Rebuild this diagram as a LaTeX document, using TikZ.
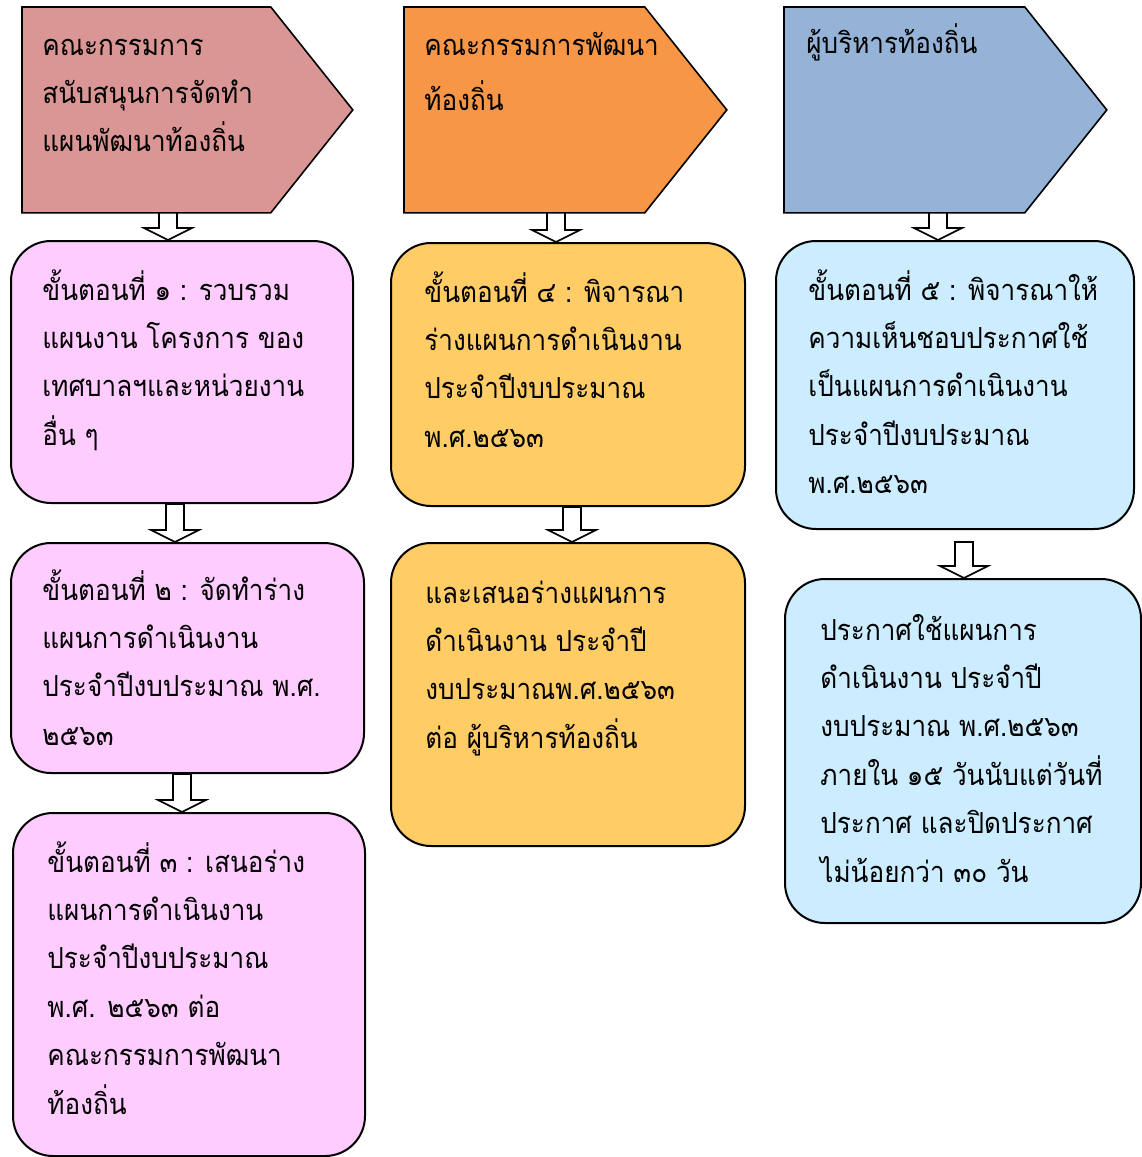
\documentclass[tikz,border=0pt]{standalone}
\usepackage{fontspec}
\newfontfamily\thai[Script=Thai, FakeStretch=0.9]{Loma}
\usetikzlibrary{calc}

\definecolor{hdrpink}{HTML}{D99694}
\definecolor{hdrorange}{HTML}{F79646}
\definecolor{hdrblue}{HTML}{95B3D7}
\definecolor{steppink}{HTML}{FFCCFF}
\definecolor{steporange}{HTML}{FFCC66}
\definecolor{stepblue}{HTML}{CCECFF}

\tikzset{
  hdrbox/.style={anchor=north west, inner sep=0pt, minimum height=102.5pt},
  stepbox/.style={draw, line width=1pt, rounded corners=20pt, anchor=north west, inner sep=0pt},
  steptext/.style={anchor=base west, inner sep=0pt,
    font=\thai\fontsize{14.5pt}{24.2pt}\selectfont},
  hollow/.style={draw, fill=white, line width=0.8pt, line join=miter}
}

% lines of a text, first baseline on the node's base
\newcommand{\textlines}[1]{\begin{tabular}[t]{@{}l@{}}#1\end{tabular}}

% pentagon behind a header node: #1 node, #2 colour
\newcommand{\hdrshape}[2]{%
  \draw[line width=0.8pt, fill=#2] (#1.north west) -- ([xshift=-41pt]#1.north east)
    -- (#1.east) -- ([xshift=-41pt]#1.south east) -- (#1.south west) -- cycle;}

% hollow block arrow going down: #1 x, #2 top, #3 bottom
\newcommand{\hollowdown}[3]{%
  \draw[hollow] let \p1=(#2), \p2=(#3), \p3=(#1,0) in
    (\x3-4.5pt,\y1) -- (\x3-4.5pt,\y2+6pt) -- (\x3-12pt,\y2+6pt) -- (\x3,\y2)
    -- (\x3+12pt,\y2+6pt) -- (\x3+4.5pt,\y2+6pt) -- (\x3+4.5pt,\y1) -- cycle;}

\begin{document}
\begin{tikzpicture}[x=0.5pt, y=-0.5pt]
    \useasboundingbox (0,0) rectangle (1141,1157);

    % Headers
    \node[hdrbox, minimum width=165pt] (h1) at (22,7) {};
    \node[hdrbox, minimum width=161pt] (h2) at (404,7) {};
    \node[hdrbox, minimum width=161pt] (h3) at (784,7) {};
    \hdrshape{h1}{hdrpink}
    \hdrshape{h2}{hdrorange}
    \hdrshape{h3}{hdrblue}
    \node[steptext] (h1t) at ([shift={(20,48)}]h1.north west)
        {\textlines{คณะกรรมการ\\สนับสนุนการจัดทำ\\แผนพัฒนาท้องถิ่น}};
    \node[steptext, font=\thai\fontsize{14.5pt}{27.5pt}\selectfont] (h2t) at ([shift={(20,48)}]h2.north west)
        {\textlines{คณะกรรมการพัฒนา\\ท้องถิ่น}};
    \node[steptext] (h3t) at ([shift={(22,46)}]h3.north west)
        {ผู้บริหารท้องถิ่น};

    % Steps, left column
    \node[stepbox, fill=steppink, minimum width=171pt, minimum height=131pt] (s1) at (10,240) {};
    \node[stepbox, fill=steppink, minimum width=176.5pt, minimum height=115pt] (s2) at (10,542) {};
    \node[stepbox, fill=steppink, minimum width=176pt, minimum height=171.5pt] (s3) at (12,812) {};
    % Steps, middle column
    \node[stepbox, fill=steporange, minimum width=177pt, minimum height=131.5pt] (s4) at (390,242) {};
    \node[stepbox, fill=steporange, minimum width=177pt, minimum height=151.5pt] (s5) at (390,542) {};
    % Steps, right column
    \node[stepbox, fill=stepblue, minimum width=179pt, minimum height=144pt] (s6) at (775,240) {};
    \node[stepbox, fill=stepblue, minimum width=178pt, minimum height=172pt] (s7) at (784,578) {};

    % Texts
    \node[steptext] (s1t) at ([shift={(32,60)}]s1.north west)
        {\textlines{ขั้นตอนที่ ๑ : รวบรวม\\แผนงาน โครงการ ของ\\เทศบาลฯและหน่วยงาน\\อื่น ๆ}};
    \node[steptext] (s2t) at ([shift={(32,58)}]s2.north west)
        {\textlines{ขั้นตอนที่ ๒ : จัดทำร่าง\\แผนการดำเนินงาน\\ประจำปีงบประมาณ พ.ศ.\\๒๕๖๓}};
    \node[steptext] (s3t) at ([shift={(35,60)}]s3.north west)
        {\textlines{ขั้นตอนที่ ๓ : เสนอร่าง\\แผนการดำเนินงาน\\ประจำปีงบประมาณ\\พ.ศ. ๒๕๖๓ ต่อ\\คณะกรรมการพัฒนา\\ท้องถิ่น}};
    \node[steptext] (s4t) at ([shift={(34,60)}]s4.north west)
        {\textlines{ขั้นตอนที่ ๔ : พิจารณา\\ร่างแผนการดำเนินงาน\\ประจำปีงบประมาณ\\พ.ศ.๒๕๖๓}};
    \node[steptext] (s5t) at ([shift={(35,61)}]s5.north west)
        {\textlines{และเสนอร่างแผนการ\\ดำเนินงาน ประจำปี\\งบประมาณพ.ศ.๒๕๖๓\\ต่อ ผู้บริหารท้องถิ่น}};
    \node[steptext] (s6t) at ([shift={(33,60)}]s6.north west)
        {\textlines{ขั้นตอนที่ ๕ : พิจารณาให้\\ความเห็นชอบประกาศใช้\\เป็นแผนการดำเนินงาน\\ประจำปีงบประมาณ\\พ.ศ.๒๕๖๓}};
    \node[steptext] (s7t) at ([shift={(36,62)}]s7.north west)
        {\textlines{ประกาศใช้แผนการ\\ดำเนินงาน ประจำปี\\งบประมาณ พ.ศ.๒๕๖๓\\ภายใน ๑๕ วันนับแต่วันที่\\ประกาศ และปิดประกาศ\\ไม่น้อยกว่า ๓๐ วัน}};

    % Arrows
    \coordinate (s6gap) at ([yshift=-6pt]s6.south);
    \hollowdown{168}{h1.south}{s1.north}
    \hollowdown{175}{s1.south}{s2.north}
    \hollowdown{182}{s2.south}{s3.north}
    \hollowdown{556}{h2.south}{s4.north}
    \hollowdown{572}{s4.south}{s5.north}
    \hollowdown{938}{h3.south}{s6.north}
    \hollowdown{964}{s6gap}{s7.north}
\end{tikzpicture}
\end{document}
